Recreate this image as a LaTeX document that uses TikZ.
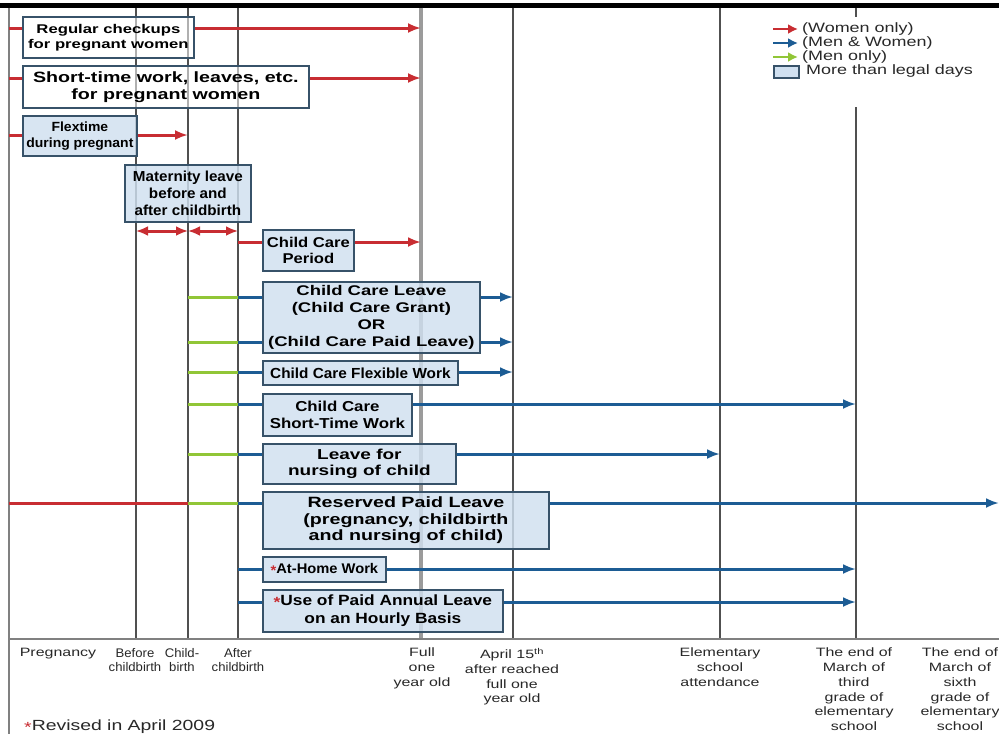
\documentclass[tikz,border=0pt]{standalone}
\usepackage{fontspec}
\setmainfont{Liberation Sans}
\newfontfamily\fA[FakeStretch=1.32]{Liberation Sans}
\newfontfamily\fB[FakeStretch=1.17]{Liberation Sans}
\newfontfamily\fC[FakeStretch=1.05]{Liberation Sans}
\usetikzlibrary{arrows.meta}
\newcommand\setfs[2]{\fontsize{#1}{#2}\selectfont}
\definecolor{cred}{RGB}{200,45,50}
\definecolor{cblue}{RGB}{28,92,148}
\definecolor{cgreen}{RGB}{145,198,55}
\definecolor{bborder}{RGB}{55,82,105}
\definecolor{bfill}{RGB}{208,224,240}
\definecolor{vline}{RGB}{80,80,80}
\definecolor{vgray}{RGB}{155,155,155}
\definecolor{labtext}{RGB}{40,40,40}
\tikzset{
  box/.style={draw=bborder, line width=1.8pt, fill=bfill, fill opacity=0.82, text opacity=1,
    inner sep=0pt, align=center, anchor=north west, text=black},
  wbox/.style={box, fill=white, fill opacity=0.55},
  tip/.style={-{Latex[length=13pt,width=10pt]}},
  dtip/.style={{Latex[length=12pt,width=10pt]}-{Latex[length=12pt,width=10pt]}},
  rline/.style={draw=cred, line width=3pt},
  bline/.style={draw=cblue, line width=3pt},
  gline/.style={draw=cgreen, line width=3pt},
  rarrow/.style={rline, tip},
  barrow/.style={bline, tip},
  vthin/.style={draw=vline, line width=1.4pt},
  lab/.style={anchor=north, align=center, inner sep=0pt, text=labtext, font=\fA\setfs{12.1}{14.7}},
  labn/.style={lab, font=\fC\setfs{12.5}{14.7}},
  legtext/.style={anchor=west, inner sep=0pt, text=labtext, font=\fA\setfs{13.6}{15}},
  legarrow/.style={line width=2.6pt, -{Latex[length=10pt,width=10pt]}},
}
\begin{document}
\begin{tikzpicture}[x=1pt,y=-1pt]
\useasboundingbox (0,0) rectangle (999,734);
\fill[white] (0,0) rectangle (999,734);
% top bar
\fill[black] (0,3) rectangle (999,7.5);
% coordinates of the time lines
\coordinate (vL) at (9,7.5);
\coordinate (v136) at (136,7.5);
\coordinate (v188) at (188,7.5);
\coordinate (v238) at (238,7.5);
\coordinate (v421) at (421,7.5);
\coordinate (v513) at (513,7.5);
\coordinate (v720) at (720,7.5);
\coordinate (v856) at (856,7.5);
\coordinate (axis) at (0,639);
\coordinate (bottom) at (0,734);
\coordinate (rend) at (999,0);
% row levels
\coordinate (r1) at (0,28);
\coordinate (r2) at (0,78);
\coordinate (r3) at (0,135);
\coordinate (r4) at (0,231);
\coordinate (r5) at (0,242);
\coordinate (r6a) at (0,297);
\coordinate (r6b) at (0,342);
\coordinate (r7) at (0,372);
\coordinate (r8) at (0,404);
\coordinate (r9) at (0,454);
\coordinate (r10) at (0,503);
\coordinate (r11) at (0,569);
\coordinate (r12) at (0,602);
% vertical lines
\draw[draw=gray, line width=2pt] (vL) -- (vL |- bottom);
\draw[vthin] (v136) -- (v136 |- axis);
\draw[vthin] (v188) -- (v188 |- axis);
\draw[vthin] (v238) -- (v238 |- axis);
\draw[draw=vgray, line width=3.2pt] (v421) -- (v421 |- axis);
\draw[vthin] (v513) -- (v513 |- axis);
\draw[vthin] (v720) -- (v720 |- axis);
\draw[vthin] (v856) -- (v856 |- axis);
\draw[draw=gray, line width=1.8pt] (vL |- axis) -- (rend |- axis);

% legend
\fill[white] (765,17) rectangle (995,107);
\coordinate (lg1) at (773,29);
\coordinate (lg1e) at (798,29);
\coordinate (lg2) at (773,43);
\coordinate (lg2e) at (798,43);
\coordinate (lg3) at (773,57);
\coordinate (lg3e) at (798,57);
\draw[legarrow, draw=cred] (lg1) -- (lg1e);
\draw[legarrow, draw=cblue] (lg2) -- (lg2e);
\draw[legarrow, draw=cgreen] (lg3) -- (lg3e);
\node[legtext] (t1) at (802,29) {(Women only)};
\node[legtext] (t2) at (802,43) {(Men \& Women)};
\node[legtext] (t3) at (802,57) {(Men only)};
\node[draw=bborder, line width=1.6pt, fill=bfill, minimum width=25, minimum height=12, inner sep=0pt, anchor=north west] (lgbox) at (773,65) {};
\node[legtext] (t4) at (806,71) {More than legal days};

% boxes
\node[wbox, minimum width=171, minimum height=41, font=\fA\bfseries\setfs{12.65}{15}] (b1) at (22,16) {Regular checkups\\for pregnant women};
\node[wbox, minimum width=286, minimum height=42, font=\fA\bfseries\setfs{14.9}{16.7}] (b2) at (22,65) {Short-time work, leaves, etc.\\for pregnant women};
\node[box, minimum width=114, minimum height=40, font=\fC\bfseries\setfs{13.3}{16}] (b3) at (22,115) {Flextime\\during pregnant};
\node[box, minimum width=126, minimum height=57, font=\fC\bfseries\setfs{14.5}{17}] (b4) at (124,164) {Maternity leave\\before and\\after childbirth};
\node[box, minimum width=91, minimum height=41, font=\fB\bfseries\setfs{14.2}{16}] (b5) at (262,229) {Child Care\\Period};
\node[box, minimum width=217, minimum height=71, font=\fA\bfseries\setfs{14}{17}] (b6) at (262,281) {Child Care Leave\\(Child Care Grant)\\OR\\(Child Care Paid Leave)};
\node[box, minimum width=195, minimum height=24, font=\fC\bfseries\setfs{14.6}{16}] (b7) at (262,360) {Child Care Flexible Work};
\node[box, minimum width=149, minimum height=42, font=\fB\bfseries\setfs{14.4}{16.7}] (b8) at (262,393) {Child Care\\Short-Time Work};
\node[box, minimum width=193, minimum height=40, font=\fA\bfseries\setfs{14.4}{16.7}] (b9) at (262,443) {Leave for\\nursing of child};
\node[box, minimum width=286, minimum height=57, font=\fA\bfseries\setfs{14.9}{16.7}] (b10) at (262,491) {Reserved Paid Leave\\(pregnancy, childbirth\\and nursing of child)};
\node[box, minimum width=123, minimum height=25, font=\fC\bfseries\setfs{14}{16}] (b11) at (262,556) {\textcolor{cred}{\raisebox{-0.25ex}{*}}At-Home Work};
\node[box, minimum width=240, minimum height=42, font=\fB\bfseries\setfs{14.8}{17.5}] (b12) at (262,589) {\textcolor{cred}{\raisebox{-0.25ex}{*}}Use of Paid Annual Leave\\on an Hourly Basis};

% connectors: women only
\draw[rline] (vL |- r1) -- (b1.west |- r1);
\draw[rarrow] (b1.east |- r1) -- (v421 |- r1);
\draw[rline] (vL |- r2) -- (b2.west |- r2);
\draw[rarrow] (b2.east |- r2) -- (v421 |- r2);
\draw[rline] (vL |- r3) -- (b3.west |- r3);
\draw[rarrow] (b3.east |- r3) -- (v188 |- r3);
\draw[rline, dtip] (v136 |- r4) -- (v188 |- r4);
\draw[rline, dtip] (v188 |- r4) -- (v238 |- r4);
\draw[rline] (v238 |- r5) -- (b5.west |- r5);
\draw[rarrow] (b5.east |- r5) -- (v421 |- r5);
% men and women
\draw[gline] (v188 |- r6a) -- (v238 |- r6a);
\draw[bline] (v238 |- r6a) -- (b6.west |- r6a);
\draw[barrow] (b6.east |- r6a) -- (v513 |- r6a);
\draw[gline] (v188 |- r6b) -- (v238 |- r6b);
\draw[bline] (v238 |- r6b) -- (b6.west |- r6b);
\draw[barrow] (b6.east |- r6b) -- (v513 |- r6b);
\draw[gline] (v188 |- r7) -- (v238 |- r7);
\draw[bline] (v238 |- r7) -- (b7.west |- r7);
\draw[barrow] (b7.east |- r7) -- (v513 |- r7);
\draw[gline] (v188 |- r8) -- (v238 |- r8);
\draw[bline] (v238 |- r8) -- (b8.west |- r8);
\draw[barrow] (b8.east |- r8) -- (v856 |- r8);
\draw[gline] (v188 |- r9) -- (v238 |- r9);
\draw[bline] (v238 |- r9) -- (b9.west |- r9);
\draw[barrow] (b9.east |- r9) -- (v720 |- r9);
\draw[rline] (vL |- r10) -- (v188 |- r10);
\draw[gline] (v188 |- r10) -- (v238 |- r10);
\draw[bline] (v238 |- r10) -- (b10.west |- r10);
\draw[barrow] (b10.east |- r10) -- (rend |- r10);
\draw[bline] (v238 |- r11) -- (b11.west |- r11);
\draw[barrow] (b11.east |- r11) -- (v856 |- r11);
\draw[bline] (v238 |- r12) -- (b12.west |- r12);
\draw[barrow] (b12.east |- r12) -- (v856 |- r12);

% axis labels
\node[lab] (l1) at (58,648) {Pregnancy};
\node[labn] (l2) at (135,648) {Before\\childbirth};
\node[labn] (l3) at (182,648) {Child-\\birth};
\node[labn] (l4) at (238,648) {After\\childbirth};
\node[lab] (l5) at (422,648) {Full\\one\\year old};
\node[lab] (l6) at (512,648) {April 15\textsuperscript{th}\\after reached\\full one\\year old};
\node[lab] (l7) at (720,648) {Elementary\\school\\attendance};
\node[lab] (l8) at (854,648) {The end of\\March of\\third\\grade of\\elementary\\school};
\node[lab] (l9) at (960,648) {The end of\\March of\\sixth\\grade of\\elementary\\school};
\node[anchor=west, inner sep=0pt, text=labtext, font=\fA\setfs{14.7}{17}] (rev) at (24,727) {\textcolor{cred}{\raisebox{-0.25ex}{*}}Revised in April 2009};
\end{tikzpicture}
\end{document}
